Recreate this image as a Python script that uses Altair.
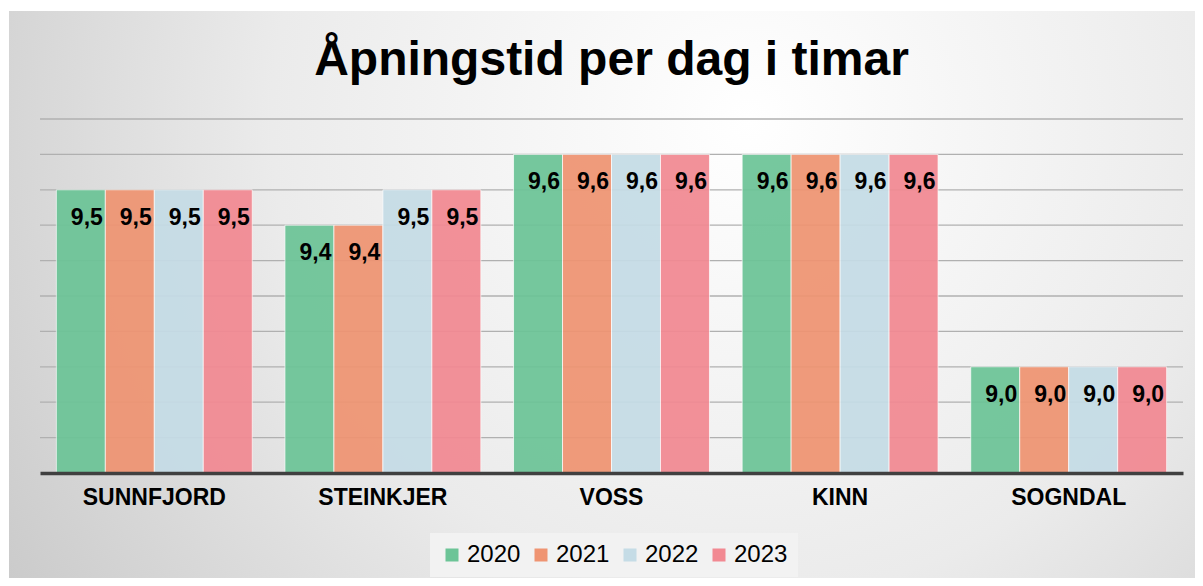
import altair as alt
import pandas as pd

categories = ["SUNNFJORD", "STEINKJER", "VOSS", "KINN", "SOGNDAL"]
years = ["2020", "2021", "2022", "2023"]
v2020 = [9.5, 9.4, 9.6, 9.6, 9.0]
v2021 = [9.5, 9.4, 9.6, 9.6, 9.0]
v2022 = [9.5, 9.5, 9.6, 9.6, 9.0]
v2023 = [9.5, 9.5, 9.6, 9.6, 9.0]
grid_values = [8.8, 8.9, 9.0, 9.1, 9.2, 9.3, 9.4, 9.5, 9.6, 9.7]
colors = ["#6CC497", "#EF9472", "#C5DCE6", "#F28992"]

rows = []
for y, vals in zip(years, [v2020, v2021, v2022, v2023]):
    for c, v in zip(categories, vals):
        rows.append({"kommune": c, "år": y, "timar": v,
                     "label": f"{v:.1f}".replace(".", ",")})
df = pd.DataFrame(rows)
grid_df = pd.DataFrame({"timar": grid_values})

FONT = "Liberation Sans"
W, H = 1143, 354
ydom = [8.7, 9.7]
yscale = alt.Scale(domain=ydom, zero=False, nice=False, clamp=True)

bg_gradient = alt.RadialGradient(
    gradient="radial", x1=0.62, y1=0.35, r1=0, x2=0.62, y2=0.35, r2=0.8,
    stops=[alt.GradientStop(offset=0, color="#ffffff"),
           alt.GradientStop(offset=0.5, color="#ebebeb"),
           alt.GradientStop(offset=1, color="#c4c4c4")],
)
bg = alt.Chart(pd.DataFrame({"a": [0]})).mark_rect(
    fill=bg_gradient, strokeWidth=0
).encode(x=alt.value(-31), x2=alt.value(1163), y=alt.value(-108), y2=alt.value(467))

grid = alt.Chart(grid_df).mark_rule(color="#b0b0b0", strokeWidth=1.3).encode(
    y=alt.Y("timar:Q", scale=yscale, axis=None)
)

base = alt.Chart(df).encode(
    x=alt.X("kommune:N", sort=categories,
            scale=alt.Scale(paddingInner=0.143, paddingOuter=0.0715),
            axis=alt.Axis(title=None, labelAngle=0, ticks=False, grid=False,
                          domainColor="#404040", domainWidth=3.5,
                          labelFont=FONT, labelFontSize=23, labelFontWeight="bold",
                          labelColor="#000000", labelPadding=13, zindex=1)),
    xOffset=alt.XOffset("år:N", sort=years),
)

bars = base.mark_bar(opacity=0.93, stroke="#ffffff", strokeWidth=1, strokeOpacity=0.7).encode(
    y=alt.Y("timar:Q", scale=yscale, axis=None),
    color=alt.Color("år:N", sort=years,
                    scale=alt.Scale(domain=years, range=colors),
                    legend=alt.Legend(title=None, orient="none", direction="horizontal",
                                      legendX=390, legendY=414, symbolType="square",
                                      symbolSize=169, symbolStrokeWidth=0,
                                      labelFont=FONT, labelFontSize=24, labelColor="#000000",
                                      labelOffset=3, columnPadding=8, padding=10,
                                      fillColor="#f2f2f2", symbolOpacity=1)),
)

labels = base.mark_text(font=FONT, fontSize=23, fontWeight="bold", color="#000000",
                        baseline="middle", align="center", dx=6, dy=28).encode(
    y=alt.Y("timar:Q"),
    text="label:N",
)

chart = alt.layer(bg, grid, bars, labels).properties(
    width=W, height=H,
    title=alt.TitleParams("Åpningstid per dag i timar", font=FONT, fontSize=48,
                          fontWeight="bold", color="#000000", anchor="middle",
                          offset=34, dy=108),
    autosize=alt.AutoSizeParams(type="none"),
    padding={"left": 32, "right": 12, "top": 111, "bottom": 105},
).configure(background="#ffffff").configure_view(stroke=None)

chart.save("out.html", embed_options={"renderer": "svg", "actions": False})
